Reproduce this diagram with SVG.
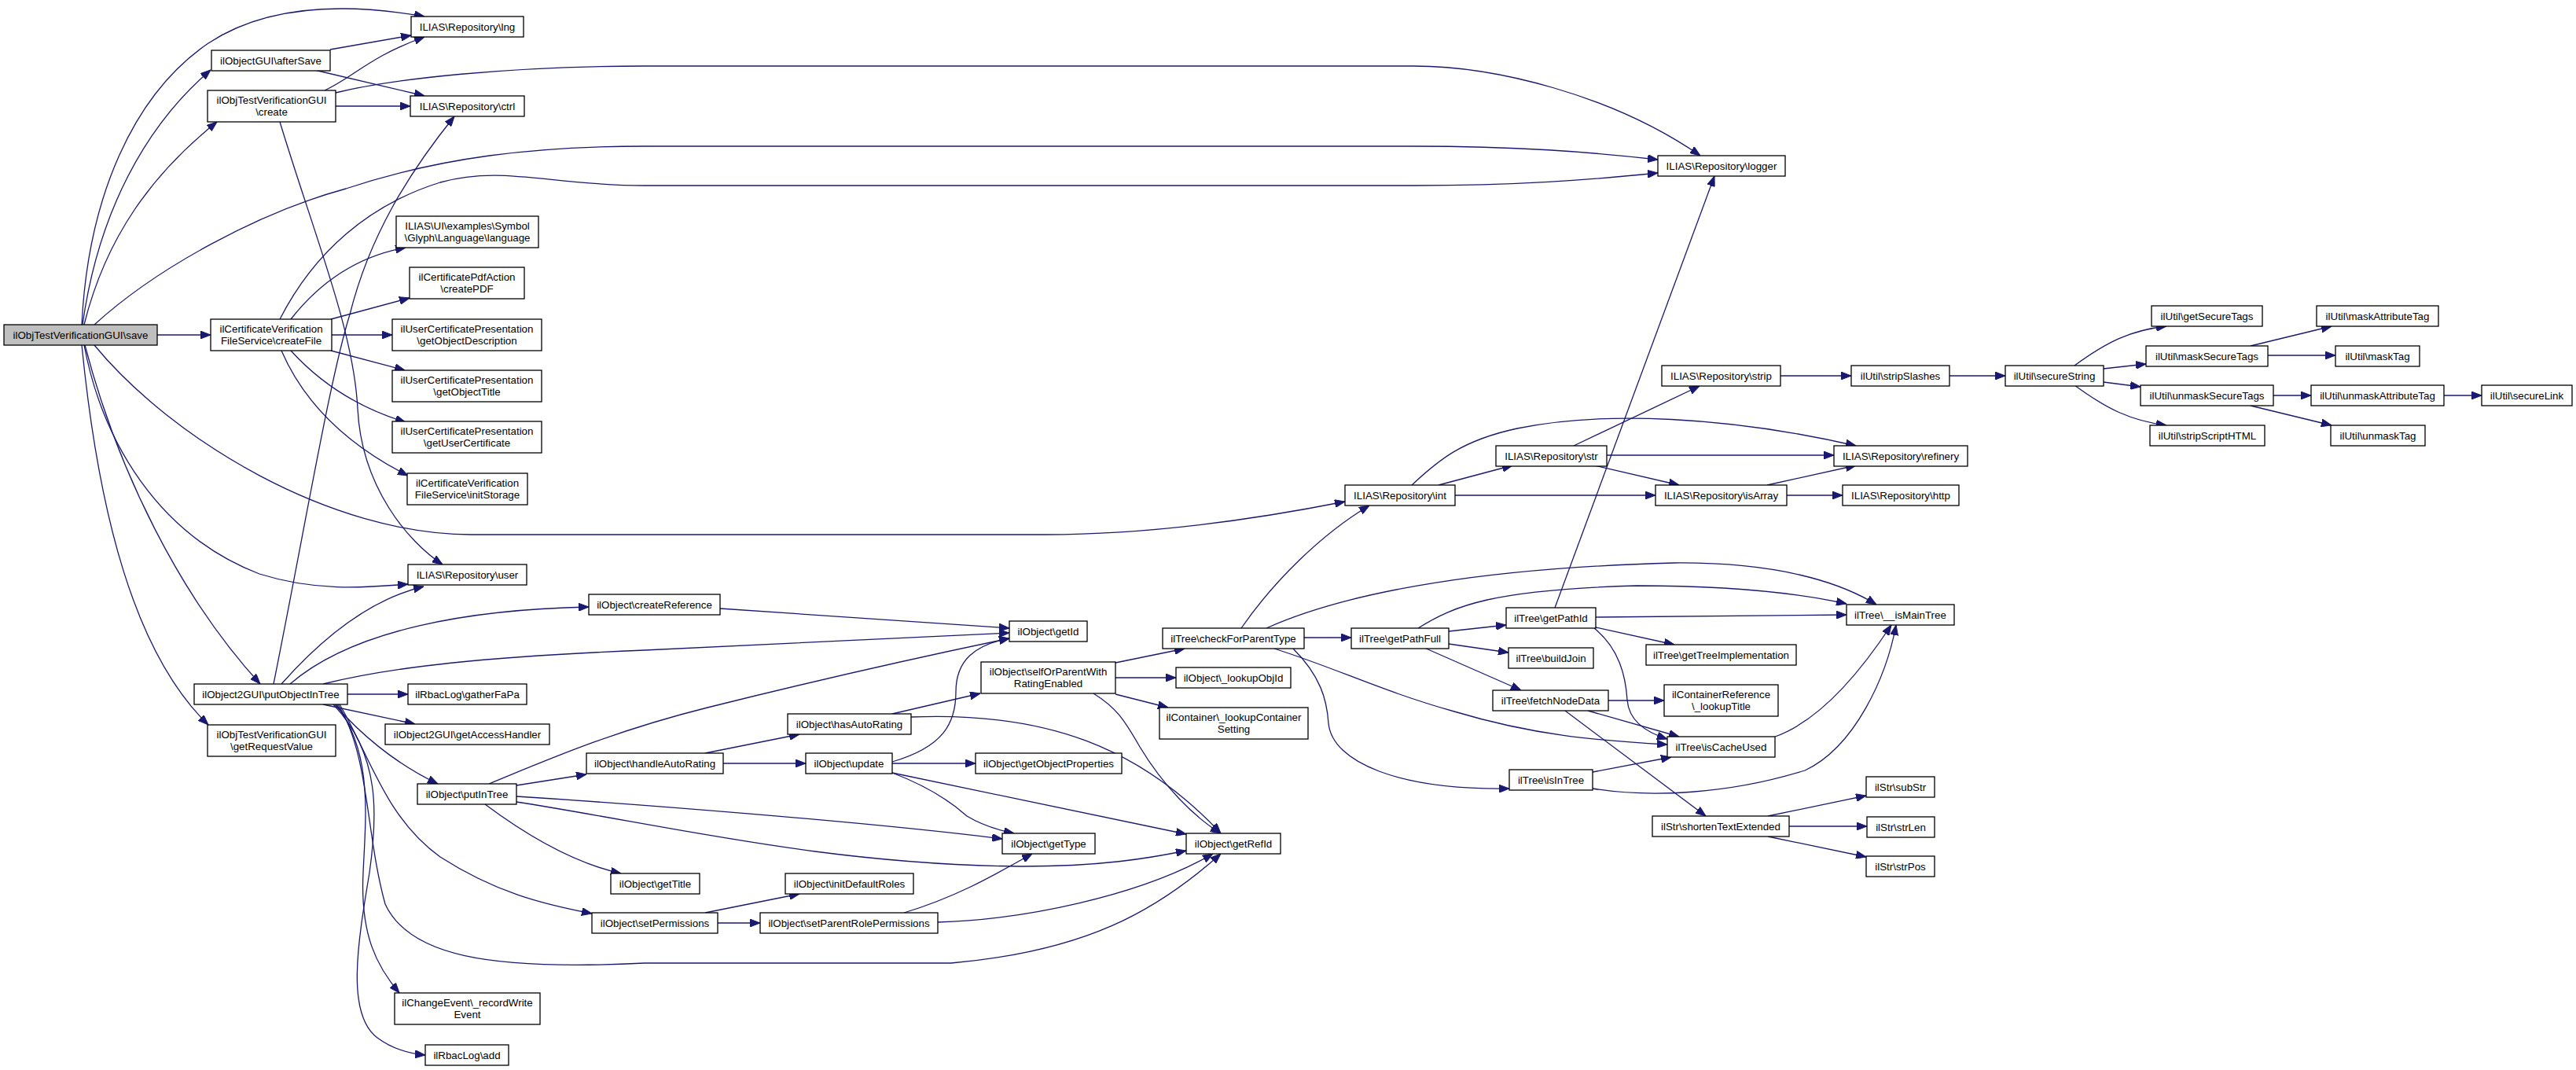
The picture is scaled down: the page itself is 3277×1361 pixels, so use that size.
<svg xmlns="http://www.w3.org/2000/svg" width="3277" height="1361" viewBox="0 0 3277 1361">
<defs>
<marker id="a" viewBox="0 0 13 10" refX="13" refY="5" markerWidth="13" markerHeight="10" markerUnits="userSpaceOnUse" orient="auto"><path d="M0,0 L13,5 L0,10 z" fill="#191970" stroke="#191970" stroke-width="1"/></marker>
<style>
.n rect{fill:#fff;stroke:#000;stroke-width:1.3}
.r rect{fill:#bfbfbf}
.n text{font-family:"Liberation Sans",Helvetica,Arial,sans-serif;font-size:13.33px;text-anchor:middle;fill:#000}
#edges path{fill:none;stroke:#191970;stroke-width:1.3;marker-end:url(#a)}
</style>
</defs>
<rect x="0" y="0" width="3277" height="1361" fill="#fff"/>
<g id="edges">
<path d="M104,413 C112,250 170,120 265,55 C330,12 420,0 540,21"/>
<path d="M105,413 C125,270 185,160 268,89"/>
<path d="M107,413 C135,300 195,220 276,155"/>
<path d="M120,413 C200,340 330,270 440,240 C560,200 680,186 820,186 L1798,186 C1930,186 2020,193 2109,203"/>
<path d="M200,426 L268,426"/>
<path d="M107,439 C130,560 200,680 330,730 C400,752 460,748 519,743"/>
<path d="M120,439 C220,560 420,680 600,680 L1330,680 C1460,680 1600,660 1711,638"/>
<path d="M108,439 C150,600 230,760 331,870"/>
<path d="M104,439 C125,650 170,830 265,922"/>
<path d="M420,63 L523,45"/>
<path d="M400,89 L540,122"/>
<path d="M413,115 C450,98 470,72 540,47"/>
<path d="M427,135 L522,135"/>
<path d="M427,118 C500,100 650,84 820,84 L1798,84 C1900,84 2050,120 2163,198"/>
<path d="M356,155 C400,300 450,420 455,520 C460,620 520,690 563,718"/>
<path d="M370,406 C410,355 460,325 516,315"/>
<path d="M421,406 L521,379"/>
<path d="M422,426 L499,426"/>
<path d="M421,446 L515,471"/>
<path d="M370,446 C410,490 460,520 516,537"/>
<path d="M358,446 C390,520 450,570 519,605"/>
<path d="M356,406 C400,320 470,260 560,232 C640,210 700,236 820,236 L1798,236 C1930,236 2020,229 2109,220"/>
<path d="M348,870 C390,660 420,480 445,400 C470,300 520,220 578,148"/>
<path d="M358,870 C420,800 480,760 539,746"/>
<path d="M369,870 C450,800 600,775 749,772"/>
<path d="M411,870 C500,848 620,835 820,827 L1284,805"/>
<path d="M442,883 L519,883"/>
<path d="M411,896 L528,921"/>
<path d="M426,896 C455,930 500,970 557,997"/>
<path d="M432,896 C470,960 490,1040 560,1090 C630,1135 690,1150 753,1162"/>
<path d="M430,896 C470,960 465,1060 490,1150 C520,1215 620,1235 820,1225 L1210,1225 C1380,1210 1470,1160 1553,1086"/>
<path d="M428,896 C475,960 465,1040 462,1110 C458,1190 480,1230 508,1263"/>
<path d="M424,896 C485,960 480,1040 470,1110 C455,1200 440,1290 480,1320 C500,1335 520,1340 541,1342"/>
<path d="M622,997 C700,965 780,930 900,900 C1000,875 1150,840 1284,812"/>
<path d="M657,999 L746,985"/>
<path d="M657,1013 C800,1022 1100,1045 1275,1067"/>
<path d="M657,1020 C850,1050 1050,1100 1300,1102 C1400,1102 1460,1092 1509,1082"/>
<path d="M617,1023 C680,1070 740,1100 790,1111"/>
<path d="M897,958 L1017,934"/>
<path d="M920,971 L1025,971"/>
<path d="M1135,908 L1247,882"/>
<path d="M1159,912 C1330,905 1450,950 1553,1060"/>
<path d="M1135,969 C1200,950 1216,920 1216,880 C1216,840 1240,820 1284,812"/>
<path d="M1135,971 L1241,971"/>
<path d="M1135,983 C1180,1000 1210,1020 1230,1038 C1250,1050 1270,1056 1290,1060"/>
<path d="M1135,983 L1509,1061"/>
<path d="M1419,843 L1507,825"/>
<path d="M1419,862 L1496,862"/>
<path d="M1419,883 L1486,900"/>
<path d="M1391,882 C1420,900 1430,915 1450,950 C1480,1000 1520,1040 1553,1060"/>
<path d="M916,774 L1284,799"/>
<path d="M897,1161 L1017,1137"/>
<path d="M913,1174 L967,1174"/>
<path d="M1150,1161 C1220,1140 1270,1110 1313,1086"/>
<path d="M1193,1173 C1300,1170 1450,1140 1543,1086"/>
<path d="M1579,799 C1620,740 1680,680 1742,643"/>
<path d="M1659,811 L1719,811"/>
<path d="M1611,799 C1720,750 1900,722 2130,716 C2260,715 2340,740 2387,769"/>
<path d="M1621,825 C1700,850 1760,880 1850,905 C1950,935 2030,942 2121,947"/>
<path d="M1645,825 C1680,860 1688,890 1690,920 C1695,970 1780,1005 1920,1003"/>
<path d="M1843,803 L1916,795"/>
<path d="M1804,799 C1850,770 1900,750 2082,745 C2200,745 2290,755 2349,768"/>
<path d="M1843,819 L1919,830"/>
<path d="M1812,824 L1935,878"/>
<path d="M1978,773 L2181,224"/>
<path d="M2030,785 L2349,782"/>
<path d="M2030,798 L2130,820"/>
<path d="M2028,799 C2060,825 2068,860 2070,890 C2072,915 2090,930 2121,940"/>
<path d="M2046,891 L2117,891"/>
<path d="M2020,904 L2136,937"/>
<path d="M1991,904 L2170,1038"/>
<path d="M2258,937 C2300,922 2350,880 2406,795"/>
<path d="M2026,982 L2126,963"/>
<path d="M2026,1003 C2100,1015 2200,1010 2296,980 C2360,950 2400,860 2412,795"/>
<path d="M2249,1038 L2374,1012"/>
<path d="M2276,1051 L2375,1051"/>
<path d="M2249,1064 L2374,1090"/>
<path d="M1830,617 L1924,592"/>
<path d="M1851,630 L2106,630"/>
<path d="M1796,617 C1830,585 1860,560 1930,545 C2040,522 2200,530 2361,567"/>
<path d="M2002,567 L2162,491"/>
<path d="M2044,579 L2333,579"/>
<path d="M2028,592 L2136,617"/>
<path d="M2248,617 L2361,592"/>
<path d="M2273,630 L2344,630"/>
<path d="M2265,478 L2355,478"/>
<path d="M2480,478 L2551,478"/>
<path d="M2639,465 C2680,435 2710,420 2756,415"/>
<path d="M2676,469 L2730,463"/>
<path d="M2676,486 L2723,492"/>
<path d="M2639,490 C2680,520 2710,535 2756,541"/>
<path d="M2863,440 L2966,415"/>
<path d="M2885,452 L2971,452"/>
<path d="M2892,503 L2940,503"/>
<path d="M2863,516 L2966,541"/>
<path d="M3109,503 L3157,503"/>
</g>
<g id="n_save" class="n r"><rect x="5" y="413" width="195" height="26"/><text x="102.5" y="430.5">ilObjTestVerificationGUI\save</text></g>
<g id="n_afterSave" class="n"><rect x="269" y="64" width="151" height="26"/><text x="344.5" y="81.5">ilObjectGUI\afterSave</text></g>
<g id="n_create" class="n"><rect x="264" y="115" width="163" height="40"/><text x="345.5" y="131.5">ilObjTestVerificationGUI</text><text x="345.5" y="146.5">\create</text></g>
<g id="n_lng" class="n"><rect x="523" y="21" width="143" height="26"/><text x="594.5" y="38.5">ILIAS\Repository\lng</text></g>
<g id="n_ctrl" class="n"><rect x="522" y="122" width="145" height="26"/><text x="594.5" y="139.5">ILIAS\Repository\ctrl</text></g>
<g id="n_language" class="n"><rect x="504" y="275" width="181" height="40"/><text x="594.5" y="291.5">ILIAS\UI\examples\Symbol</text><text x="594.5" y="306.5">\Glyph\Language\language</text></g>
<g id="n_createPDF" class="n"><rect x="521" y="340" width="146" height="40"/><text x="594" y="356.5">ilCertificatePdfAction</text><text x="594" y="371.5">\createPDF</text></g>
<g id="n_getObjectDescription" class="n"><rect x="499" y="406" width="190" height="40"/><text x="594" y="422.5">ilUserCertificatePresentation</text><text x="594" y="437.5">\getObjectDescription</text></g>
<g id="n_createFile" class="n"><rect x="268" y="406" width="154" height="40"/><text x="345" y="422.5">ilCertificateVerification</text><text x="345" y="437.5">FileService\createFile</text></g>
<g id="n_getObjectTitle" class="n"><rect x="499" y="471" width="190" height="40"/><text x="594" y="487.5">ilUserCertificatePresentation</text><text x="594" y="502.5">\getObjectTitle</text></g>
<g id="n_getUserCertificate" class="n"><rect x="499" y="536" width="190" height="40"/><text x="594" y="552.5">ilUserCertificatePresentation</text><text x="594" y="567.5">\getUserCertificate</text></g>
<g id="n_initStorage" class="n"><rect x="518" y="602" width="153" height="40"/><text x="594.5" y="618.5">ilCertificateVerification</text><text x="594.5" y="633.5">FileService\initStorage</text></g>
<g id="n_user" class="n"><rect x="519" y="718" width="151" height="26"/><text x="594.5" y="735.5">ILIAS\Repository\user</text></g>
<g id="n_createReference" class="n"><rect x="749" y="756" width="167" height="26"/><text x="832.5" y="773.5">ilObject\createReference</text></g>
<g id="n_putObjectInTree" class="n"><rect x="247" y="870" width="195" height="26"/><text x="344.5" y="887.5">ilObject2GUI\putObjectInTree</text></g>
<g id="n_gatherFaPa" class="n"><rect x="519" y="870" width="151" height="26"/><text x="594.5" y="887.5">ilRbacLog\gatherFaPa</text></g>
<g id="n_getRequestValue" class="n"><rect x="264" y="922" width="163" height="40"/><text x="345.5" y="938.5">ilObjTestVerificationGUI</text><text x="345.5" y="953.5">\getRequestValue</text></g>
<g id="n_getAccessHandler" class="n"><rect x="490" y="921" width="209" height="26"/><text x="594.5" y="938.5">ilObject2GUI\getAccessHandler</text></g>
<g id="n_putInTree" class="n"><rect x="531" y="997" width="126" height="26"/><text x="594" y="1014.5">ilObject\putInTree</text></g>
<g id="n_recordWriteEvent" class="n"><rect x="502" y="1263" width="185" height="40"/><text x="594.5" y="1279.5">ilChangeEvent\_recordWrite</text><text x="594.5" y="1294.5">Event</text></g>
<g id="n_add" class="n"><rect x="541" y="1329" width="106" height="26"/><text x="594" y="1346.5">ilRbacLog\add</text></g>
<g id="n_handleAutoRating" class="n"><rect x="746" y="958" width="174" height="26"/><text x="833" y="975.5">ilObject\handleAutoRating</text></g>
<g id="n_hasAutoRating" class="n"><rect x="1002" y="908" width="157" height="26"/><text x="1080.5" y="925.5">ilObject\hasAutoRating</text></g>
<g id="n_update" class="n"><rect x="1025" y="958" width="110" height="26"/><text x="1080" y="975.5">ilObject\update</text></g>
<g id="n_getObjectProperties" class="n"><rect x="1241" y="958" width="186" height="26"/><text x="1334" y="975.5">ilObject\getObjectProperties</text></g>
<g id="n_getType" class="n"><rect x="1275" y="1060" width="118" height="26"/><text x="1334" y="1077.5">ilObject\getType</text></g>
<g id="n_getRefId" class="n"><rect x="1509" y="1060" width="120" height="26"/><text x="1569" y="1077.5">ilObject\getRefId</text></g>
<g id="n_getTitle" class="n"><rect x="777" y="1111" width="113" height="26"/><text x="833.5" y="1128.5">ilObject\getTitle</text></g>
<g id="n_initDefaultRoles" class="n"><rect x="999" y="1111" width="163" height="26"/><text x="1080.5" y="1128.5">ilObject\initDefaultRoles</text></g>
<g id="n_setPermissions" class="n"><rect x="753" y="1161" width="160" height="26"/><text x="833" y="1178.5">ilObject\setPermissions</text></g>
<g id="n_setParentRolePermissions" class="n"><rect x="967" y="1161" width="226" height="26"/><text x="1080" y="1178.5">ilObject\setParentRolePermissions</text></g>
<g id="n_getId" class="n"><rect x="1284" y="790" width="99" height="26"/><text x="1333.5" y="807.5">ilObject\getId</text></g>
<g id="n_selfOrParent" class="n"><rect x="1248" y="842" width="171" height="40"/><text x="1333.5" y="858.5">ilObject\selfOrParentWith</text><text x="1333.5" y="873.5">RatingEnabled</text></g>
<g id="n_checkForParentType" class="n"><rect x="1479" y="799" width="180" height="26"/><text x="1569" y="816.5">ilTree\checkForParentType</text></g>
<g id="n_lookupObjId" class="n"><rect x="1496" y="849" width="146" height="26"/><text x="1569" y="866.5">ilObject\_lookupObjId</text></g>
<g id="n_lookupContainerSetting" class="n"><rect x="1475" y="900" width="189" height="40"/><text x="1569.5" y="916.5">ilContainer\_lookupContainer</text><text x="1569.5" y="931.5">Setting</text></g>
<g id="n_logger" class="n"><rect x="2109" y="198" width="162" height="26"/><text x="2190" y="215.5">ILIAS\Repository\logger</text></g>
<g id="n_strip" class="n"><rect x="2114" y="465" width="151" height="26"/><text x="2189.5" y="482.5">ILIAS\Repository\strip</text></g>
<g id="n_stripSlashes" class="n"><rect x="2355" y="465" width="125" height="26"/><text x="2417.5" y="482.5">ilUtil\stripSlashes</text></g>
<g id="n_str" class="n"><rect x="1903" y="567" width="141" height="26"/><text x="1973.5" y="584.5">ILIAS\Repository\str</text></g>
<g id="n_refinery" class="n"><rect x="2333" y="567" width="170" height="26"/><text x="2418" y="584.5">ILIAS\Repository\refinery</text></g>
<g id="n_int" class="n"><rect x="1711" y="617" width="140" height="26"/><text x="1781" y="634.5">ILIAS\Repository\int</text></g>
<g id="n_isArray" class="n"><rect x="2106" y="617" width="167" height="26"/><text x="2189.5" y="634.5">ILIAS\Repository\isArray</text></g>
<g id="n_http" class="n"><rect x="2344" y="617" width="148" height="26"/><text x="2418" y="634.5">ILIAS\Repository\http</text></g>
<g id="n_getPathId" class="n"><rect x="1916" y="773" width="114" height="26"/><text x="1973" y="790.5">ilTree\getPathId</text></g>
<g id="n_isMainTree" class="n"><rect x="2349" y="769" width="137" height="26"/><text x="2417.5" y="786.5">ilTree\__isMainTree</text></g>
<g id="n_getPathFull" class="n"><rect x="1719" y="799" width="124" height="26"/><text x="1781" y="816.5">ilTree\getPathFull</text></g>
<g id="n_buildJoin" class="n"><rect x="1919" y="824" width="108" height="26"/><text x="1973" y="841.5">ilTree\buildJoin</text></g>
<g id="n_getTreeImplementation" class="n"><rect x="2094" y="820" width="191" height="26"/><text x="2189.5" y="837.5">ilTree\getTreeImplementation</text></g>
<g id="n_fetchNodeData" class="n"><rect x="1899" y="878" width="147" height="26"/><text x="1972.5" y="895.5">ilTree\fetchNodeData</text></g>
<g id="n_lookupTitle" class="n"><rect x="2117" y="871" width="145" height="40"/><text x="2189.5" y="887.5">ilContainerReference</text><text x="2189.5" y="902.5">\_lookupTitle</text></g>
<g id="n_isCacheUsed" class="n"><rect x="2121" y="937" width="137" height="26"/><text x="2189.5" y="954.5">ilTree\isCacheUsed</text></g>
<g id="n_isInTree" class="n"><rect x="1920" y="979" width="106" height="26"/><text x="1973" y="996.5">ilTree\isInTree</text></g>
<g id="n_shortenTextExtended" class="n"><rect x="2102" y="1038" width="174" height="26"/><text x="2189" y="1055.5">ilStr\shortenTextExtended</text></g>
<g id="n_subStr" class="n"><rect x="2374" y="988" width="87" height="26"/><text x="2417.5" y="1005.5">ilStr\subStr</text></g>
<g id="n_strLen" class="n"><rect x="2375" y="1039" width="86" height="26"/><text x="2418" y="1056.5">ilStr\strLen</text></g>
<g id="n_strPos" class="n"><rect x="2374" y="1089" width="87" height="26"/><text x="2417.5" y="1106.5">ilStr\strPos</text></g>
<g id="n_secureString" class="n"><rect x="2551" y="465" width="125" height="26"/><text x="2613.5" y="482.5">ilUtil\secureString</text></g>
<g id="n_getSecureTags" class="n"><rect x="2737" y="389" width="141" height="26"/><text x="2807.5" y="406.5">ilUtil\getSecureTags</text></g>
<g id="n_maskSecureTags" class="n"><rect x="2730" y="440" width="155" height="26"/><text x="2807.5" y="457.5">ilUtil\maskSecureTags</text></g>
<g id="n_unmaskSecureTags" class="n"><rect x="2723" y="490" width="169" height="26"/><text x="2807.5" y="507.5">ilUtil\unmaskSecureTags</text></g>
<g id="n_stripScriptHTML" class="n"><rect x="2735" y="541" width="146" height="26"/><text x="2808" y="558.5">ilUtil\stripScriptHTML</text></g>
<g id="n_maskAttributeTag" class="n"><rect x="2947" y="389" width="155" height="26"/><text x="3024.5" y="406.5">ilUtil\maskAttributeTag</text></g>
<g id="n_maskTag" class="n"><rect x="2971" y="440" width="107" height="26"/><text x="3024.5" y="457.5">ilUtil\maskTag</text></g>
<g id="n_unmaskAttributeTag" class="n"><rect x="2940" y="490" width="169" height="26"/><text x="3024.5" y="507.5">ilUtil\unmaskAttributeTag</text></g>
<g id="n_secureLink" class="n"><rect x="3157" y="490" width="115" height="26"/><text x="3214.5" y="507.5">ilUtil\secureLink</text></g>
<g id="n_unmaskTag" class="n"><rect x="2965" y="541" width="120" height="26"/><text x="3025" y="558.5">ilUtil\unmaskTag</text></g>
</svg>
